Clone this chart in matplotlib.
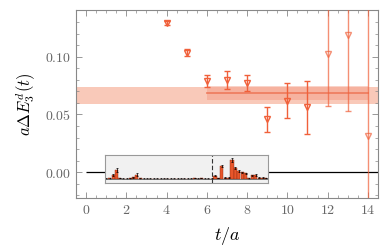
import matplotlib
matplotlib.use("Agg")
import matplotlib.pyplot as plt
from matplotlib.ticker import MultipleLocator, FuncFormatter
import numpy as np

plt.rcParams['mathtext.fontset'] = 'cm'
plt.rcParams['font.family'] = ['DejaVu Serif']

# main data
t_vals = [4, 5, 6, 7, 8, 9, 10, 11, 12, 13, 14]
dE_vals = [0.129, 0.1035, 0.079, 0.0798, 0.0775, 0.0458, 0.062, 0.0562, 0.1023, 0.1188, 0.0317]
dE_errs = [0.002, 0.003, 0.0055, 0.008, 0.0068, 0.011, 0.0153, 0.023, 0.045, 0.066, 0.13]

# fit bands
band_wide = (0.059, 0.0735)
band_fit = (0.0625, 0.0746)
fit_center = 0.0683
fit_range = (6.0, 14.0)

# inset histogram
inset_heights = [0.01, 0.02, 0.20, 0.45, 0.04, 0.01, 0.01, 0.02, 0.07, 0.22, 0.03,
                 0.01, 0.01, 0.01, 0.01, 0.01, 0.01, 0.01, 0.01, 0.01, 0.01, 0.01,
                 0.01, 0.01, 0.01, 0.01, 0.04, 0.01, 0.04, 0.01, 0.01, 0.01,
                 0.16, 0.03, 0.68, 0.06, 0.06, 1.00, 0.55, 0.42, 0.34, 0.28,
                 0.02, 0.19, 0.20, 0.05, 0.05, 0.04]
inset_errs = [0.01, 0.01, 0.05, 0.12, 0.02, 0.01, 0.01, 0.01, 0.03, 0.07, 0.02,
              0.01, 0.01, 0.01, 0.01, 0.01, 0.01, 0.01, 0.01, 0.01, 0.01, 0.01,
              0.01, 0.01, 0.01, 0.01, 0.02, 0.01, 0.02, 0.01, 0.01, 0.01,
              0.04, 0.01, 0.06, 0.02, 0.02, 0.10, 0.05, 0.04, 0.03, 0.03,
              0.01, 0.03, 0.03, 0.02, 0.02, 0.02]
inset_cut = 31.5

col = '#f0603a'

fig = plt.figure(figsize=(3.9, 2.48), dpi=100)
ax = fig.add_axes([0.195, 0.2016, 0.774, 0.7584])

ax.axhspan(band_wide[0], band_wide[1], color='#f9c9b9', lw=0, zorder=1)
ax.fill_between(fit_range, band_fit[0], band_fit[1], color='#f2917a', alpha=0.4, lw=0, zorder=2)
ax.plot(fit_range, [fit_center, fit_center], color='#ee7a5c', lw=1.2, zorder=3)

ax.hlines(0, 0, 14.5, color='black', lw=0.9, zorder=2)

for t, v, e in zip(t_vals, dE_vals, dE_errs):
    a = 1.0 if t < 12 else 0.7
    ax.errorbar(t, v, yerr=e, fmt='v', color=col, mfc='none', mec=col, ms=4.5,
                mew=1.0, elinewidth=1.0, capsize=2.5, capthick=1.0, alpha=a, zorder=5)

ax.set_xlim(-0.5, 14.5)
ax.set_ylim(-0.0222, 0.1404)
ax.xaxis.set_major_locator(MultipleLocator(2))
ax.xaxis.set_minor_locator(MultipleLocator(0.5))
ax.yaxis.set_major_locator(MultipleLocator(0.05))
ax.yaxis.set_minor_locator(MultipleLocator(0.01))
ax.xaxis.set_major_formatter(FuncFormatter(lambda v, p: f'${v:.0f}$'))
ax.yaxis.set_major_formatter(FuncFormatter(lambda v, p: f'${v:.2f}$'))
gray = '#888888'
for s in ax.spines.values():
    s.set_color(gray)
    s.set_linewidth(0.8)
ax.tick_params(which='both', direction='in', top=True, right=True, colors=gray,
               labelcolor='#666666', labelsize=10)
ax.tick_params(which='major', length=4, width=0.6)
ax.tick_params(which='minor', length=2, width=0.5)
ax.set_xlabel(r'$t/a$', fontsize=13, labelpad=6)
ax.set_ylabel(r'$a\Delta E_3^d(t)$', fontsize=12, labelpad=5)

# inset
ins = ax.inset_axes([0.92, -0.0095, 8.1, 0.0245], transform=ax.transData)
ins.set_facecolor('#f1f1f1')
idx = np.arange(len(inset_heights))
ins.bar(idx + 0.5, inset_heights, width=0.9, color='#e8552a', edgecolor='#8a2a10', lw=0.3)
ins.errorbar(idx + 0.5, inset_heights, yerr=inset_errs, fmt='none', ecolor='black',
             elinewidth=0.5, capsize=1, capthick=0.5)
ins.axhline(0, color='#666666', lw=0.6)
ins.axvline(inset_cut, color='#333333', lw=0.8, ls=(0, (4, 2)))
ins.set_xlim(0, len(inset_heights))
ins.set_ylim(-0.24, 1.25)
ins.set_xticks([])
ins.set_yticks([])
for s in ins.spines.values():
    s.set_color('#999999')
    s.set_linewidth(0.8)

fig.savefig('out.png', dpi=100)
